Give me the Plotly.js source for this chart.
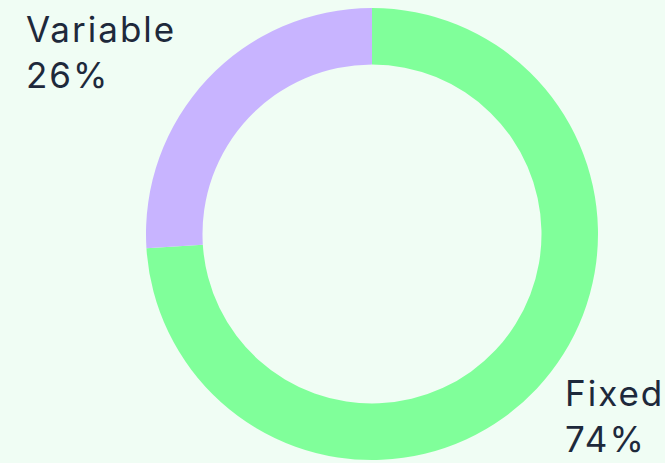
<!DOCTYPE html>
<html><head><meta charset="utf-8">
<script src="https://cdn.plot.ly/plotly-3.0.1.min.js"></script>
<style>html,body{margin:0;padding:0;background:#f0fdf4;}#chart{width:665px;height:463px;}
.annotation-text{letter-spacing:2px;}</style>
</head><body><div id="chart"></div>
<script>
const categories = ["Fixed", "Variable"];
const values = [74, 26];
const colors = ["#80ff9a", "#c8b4ff"];

const total = values.reduce((a, b) => a + b, 0);
const pct = values.map(v => Math.round(v / total * 100) + "%");

const data = [{
  type: "pie",
  labels: categories,
  values: values,
  hole: 0.75,
  sort: false,
  direction: "clockwise",
  rotation: 0,
  textinfo: "none",
  hoverinfo: "label+percent",
  marker: {colors: colors, line: {width: 0}},
  domain: {x: [146/665, 598/665], y: [3/463, 455/463]},
  showlegend: false
}];

const font = {family: "Inter, 'Noto Sans', sans-serif", size: 35, weight: 400, color: "#1e293b"};
const layout = {
  width: 665, height: 463,
  margin: {l: 0, r: 0, t: 0, b: 0},
  paper_bgcolor: "#f0fdf4",
  plot_bgcolor: "#f0fdf4",
  annotations: [
    {text: categories[1] + "<br>" + pct[1], x: 24/665, y: 1 - 6/463, xref: "paper", yref: "paper",
     xanchor: "left", yanchor: "top", align: "left", showarrow: false, font: font},
    {text: categories[0] + "<br>" + pct[0], x: 563/665, y: 1 - 370/463, xref: "paper", yref: "paper",
     xanchor: "left", yanchor: "top", align: "left", showarrow: false, font: font}
  ]
};
Plotly.newPlot("chart", data, layout, {displayModeBar: false, staticPlot: true});
</script></body></html>
